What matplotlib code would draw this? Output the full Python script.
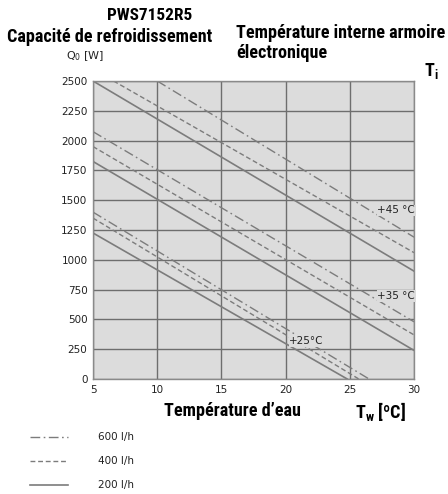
import matplotlib
matplotlib.use("Agg")
import matplotlib.pyplot as plt
from matplotlib import font_manager

# Cooling capacity Q0 [W] vs. water temperature Tw [°C]
# Each curve is a straight line given by where it enters and leaves the chart area.
flows = ["600 l/h", "400 l/h", "200 l/h"]
cabinet_temps = ["+45 °C", "+35 °C", "+25°C"]

# (Tw, Q0) end points per cabinet temperature, per flow rate
t45_600 = [(10.0, 2500), (30.0, 1190)]
t45_400 = [(6.6, 2500), (30.0, 1060)]
t45_200 = [(5.0, 2500), (30.0, 905)]

t35_600 = [(5.0, 2075), (30.0, 480)]
t35_400 = [(5.0, 1950), (30.0, 370)]
t35_200 = [(5.0, 1825), (30.0, 240)]

t25_600 = [(5.0, 1400), (26.5, 0)]
t25_400 = [(5.0, 1350), (25.7, 0)]
t25_200 = [(5.0, 1225), (24.8, 0)]

x_ticks = [5, 10, 15, 20, 25, 30]
y_ticks = [0, 250, 500, 750, 1000, 1250, 1500, 1750, 2000, 2250, 2500]

W, H = 448, 494
fig = plt.figure(figsize=(W / 100, H / 100), dpi=100)
fig.patch.set_facecolor("white")

# Narrow bold face for the headings
names = {f.name for f in font_manager.fontManager.ttflist}
head_family = "Roboto"
for cand in ["Roboto Condensed", "Liberation Sans Narrow", "Open Sans Condensed",
             "DejaVu Sans Condensed"]:
    if cand in names:
        head_family = cand
        break
head_kw = dict(family=[head_family, "DejaVu Sans"], weight="bold")
scale = 1.0 if head_family != "Roboto" else 0.87
hs = 13.1 * scale

def fx(x):
    return x / W

def fy(y):
    return 1 - y / H

left, right, top, bottom = 93, 414, 81, 379
ax = fig.add_axes([fx(left), fy(bottom), fx(right) - fx(left), fy(top) - fy(bottom)])
ax.set_facecolor("#dcdcdc")
ax.set_xlim(5, 30)
ax.set_ylim(0, 2500)
ax.set_xticks(x_ticks)
ax.set_yticks(y_ticks)
ax.grid(True, color="#6e6e6e", linewidth=1.0)
ax.set_axisbelow(True)
for s in ax.spines.values():
    s.set_color("#8a8a8a")
    s.set_linewidth(1.0)
ax.tick_params(length=0, labelsize=7.5, colors="#222222", pad=4)

line_color = "#7c7c7c"
styles = {
    "600 l/h": dict(linestyle=(0, (7, 2.5, 1.2, 2.5)), linewidth=1.0),
    "400 l/h": dict(linestyle=(0, (3.5, 2.0)), linewidth=1.0),
    "200 l/h": dict(linestyle="-", linewidth=1.2),
}
groups = [
    (t45_600, t45_400, t45_200),
    (t35_600, t35_400, t35_200),
    (t25_600, t25_400, t25_200),
]
for grp in groups:
    for flow, pts in zip(flows, grp):
        xs = [p[0] for p in pts]
        ys = [p[1] for p in pts]
        ax.plot(xs, ys, color=line_color, **styles[flow])

# Cabinet temperature labels on the chart
lab_kw = dict(fontsize=7.5, color="#222222", ha="left", va="center",
              bbox=dict(fc="#dcdcdc", ec="none", pad=0.5))
ax.text(27.15, 1415, cabinet_temps[0], **lab_kw)
ax.text(27.15, 695, cabinet_temps[1], **lab_kw)
ax.text(20.3, 320, cabinet_temps[2], **lab_kw)

# Headings
fig.text(fx(150), fy(16), "PWS7152R5", fontsize=hs * 0.95, ha="center", va="center", **head_kw)
fig.text(fx(7), fy(37), "Capacité de refroidissement", fontsize=hs, ha="left", va="center", **head_kw)
fig.text(fx(66), fy(56), "Q$_0$ [W]", fontsize=8, ha="left", va="center", color="#222222")
fig.text(fx(236), fy(33), "Température interne armoire", fontsize=hs, ha="left", va="center", **head_kw)
fig.text(fx(236), fy(53), "électronique", fontsize=hs, ha="left", va="center", **head_kw)
fig.text(fx(424), fy(71), "T$_\\mathregular{i}$", fontsize=hs, ha="left", va="center", **head_kw)

fig.text(fx(232), fy(411), "Température d’eau", fontsize=hs, ha="center", va="center", **head_kw)
fig.text(fx(355), fy(411), "T$_\\mathregular{w}$ [ºC]", fontsize=hs, ha="left", va="center", **head_kw)

# Flow-rate legend
leg_y = [437, 461, 485]
for flow, yy in zip(flows, leg_y):
    fig.add_artist(plt.Line2D([fx(30), fx(68)], [fy(yy), fy(yy)], color=line_color,
                              transform=fig.transFigure, **styles[flow]))
    fig.text(fx(98), fy(yy), flow, fontsize=7.5, ha="left", va="center", color="#222222")

fig.savefig("out.png", dpi=100)
